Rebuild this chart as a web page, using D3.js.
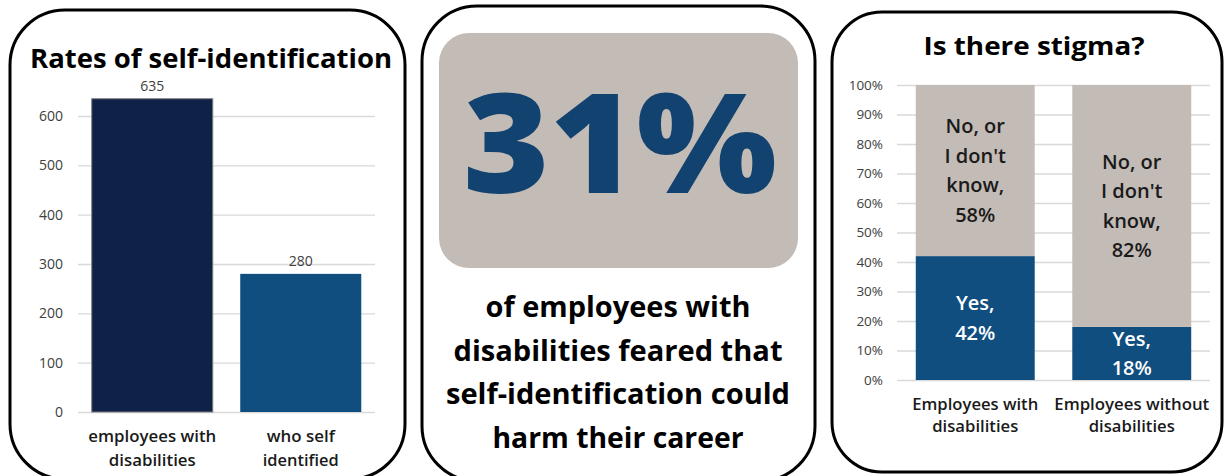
<!DOCTYPE html>
<html>
<head>
<meta charset="utf-8">
<script src="https://cdn.jsdelivr.net/npm/d3@7"></script>
<style>
  html, body { margin: 0; padding: 0; background: #ffffff; }
  svg { display: block; }
</style>
</head>
<body>
<svg id="chart" width="1226" height="476"></svg>
<script>
// ---- Data ----
const idCategories = [["employees with", "disabilities"], ["who self", "identified"]];
const idValues = [635, 280];
const idTicks = [0, 100, 200, 300, 400, 500, 600];

const headlineValue = "31%";
const headlineText = ["of employees with", "disabilities feared that", "self-identification could", "harm their career"];

const stigmaCategories = [["Employees with", "disabilities"], ["Employees without", "disabilities"]];
const stigmaYes = [42, 18];
const stigmaNo = [58, 82];
const stigmaTicks = [0, 10, 20, 30, 40, 50, 60, 70, 80, 90, 100];

// ---- Styles ----
const TITLE_FONT = "'Open Sans', Lato, sans-serif";
const AXIS_FONT = "'Open Sans', 'Noto Sans', sans-serif";
const NAVY = "#0f2147";
const BLUE = "#114e80";
const TAUPE = "#c3bbb6";
const BIG = "#12426f";
const GRID = "#d9d9d9";

const svg = d3.select("#chart");

function panel(x0, y0, x1, y1, r) {
  svg.append("rect")
    .attr("x", x0).attr("y", y0)
    .attr("width", x1 - x0).attr("height", y1 - y0)
    .attr("rx", r).attr("ry", r)
    .attr("fill", "#fff").attr("stroke", "#000").attr("stroke-width", 3);
}

// Centered label; optional width widens the rounded display face a little.
function label(g, t, x, y, size, weight, color, width) {
  const el = g.append("text").attr("x", x).attr("y", y).attr("text-anchor", "middle")
    .attr("font-family", TITLE_FONT).attr("font-weight", weight).attr("font-size", size)
    .attr("fill", color).text(t);
  if (width) el.attr("textLength", width).attr("lengthAdjust", "spacingAndGlyphs");
  return el;
}

// ---- Panel frames ----
panel(10, 10, 405, 479, 55);
panel(422, 6, 815, 481, 55);
panel(832, 12, 1222, 472, 50);

// ---- Panel 1: Rates of self-identification ----
{
  const g = svg.append("g");
  const x = d3.scaleBand().domain(d3.range(idValues.length)).range([78, 375])
    .paddingInner(0.185).paddingOuter(0.0925);
  const y = d3.scaleLinear().domain([0, 600]).range([412, 116]);

  label(g, "Rates of self-identification", 211, 68, 27, 700, "#000", 362);

  const axis = d3.axisLeft(y).tickValues(idTicks).tickSize(-(375 - 78)).tickPadding(15);
  const ax = g.append("g").attr("transform", "translate(78,0)").call(axis);
  ax.select(".domain").remove();
  ax.selectAll(".tick line").attr("stroke", GRID).attr("stroke-width", 1.3);
  ax.selectAll(".tick text").attr("font-family", AXIS_FONT).attr("font-size", 14).attr("fill", "#404040");

  g.selectAll("rect.bar").data(idValues).join("rect").attr("class", "bar")
    .attr("x", (d, i) => x(i)).attr("width", x.bandwidth())
    .attr("y", d => y(d)).attr("height", d => y(0) - y(d))
    .attr("fill", (d, i) => i === 0 ? NAVY : BLUE)
    .attr("stroke", (d, i) => i === 0 ? "#7f7f7f" : "none").attr("stroke-width", 1);

  g.selectAll("text.val").data(idValues).join("text").attr("class", "val")
    .attr("x", (d, i) => x(i) + x.bandwidth() / 2).attr("y", d => y(d) - 8)
    .attr("text-anchor", "middle").attr("font-family", AXIS_FONT).attr("font-size", 14)
    .attr("fill", "#404040").text(d => d);

  const catWidths = [[128, 87], [68, 76]];
  idCategories.forEach((lines, i) => {
    lines.forEach((t, j) => {
      label(g, t, x(i) + x.bandwidth() / 2, 442 + j * 23.5, 16.5, 600, "#1a1a1a", catWidths[i][j]);
    });
  });
}

// ---- Panel 2: headline figure ----
{
  const g = svg.append("g");
  g.append("rect").attr("x", 439).attr("y", 33).attr("width", 359).attr("height", 235)
    .attr("rx", 30).attr("ry", 30).attr("fill", TAUPE);
  label(g, headlineValue, 620, 193, 138, 800, BIG, 314);
  const lineWidths = [265, 329, 344, 251];
  headlineText.forEach((t, j) => {
    label(g, t, 618, 317 + j * 43.5, 28, 700, "#000", lineWidths[j]);
  });
}

// ---- Panel 3: Is there stigma? ----
{
  const g = svg.append("g");
  const x = d3.scaleBand().domain(d3.range(stigmaYes.length)).range([897, 1210])
    .paddingInner(0.24).paddingOuter(0.12);
  const y = d3.scaleLinear().domain([0, 100]).range([380, 85]);

  label(g, "Is there stigma?", 1034, 55, 25, 700, "#000", 221);

  const axis = d3.axisLeft(y).tickValues(stigmaTicks).tickSize(-(1210 - 897)).tickPadding(14)
    .tickFormat(d => d + "%");
  const ax = g.append("g").attr("transform", "translate(897,0)").call(axis);
  ax.select(".domain").remove();
  ax.selectAll(".tick line").attr("stroke", GRID).attr("stroke-width", 1.3);
  ax.selectAll(".tick text").attr("font-family", AXIS_FONT).attr("font-size", 13.5).attr("fill", "#404040");

  const stack = stigmaYes.map((v, i) => ({ i, yes: v, no: stigmaNo[i] }));

  g.selectAll("rect.yes").data(stack).join("rect").attr("class", "yes")
    .attr("x", d => x(d.i)).attr("width", x.bandwidth())
    .attr("y", d => y(d.yes)).attr("height", d => y(0) - y(d.yes)).attr("fill", BLUE);
  g.selectAll("rect.no").data(stack).join("rect").attr("class", "no")
    .attr("x", d => x(d.i)).attr("width", x.bandwidth())
    .attr("y", d => y(d.yes + d.no)).attr("height", d => y(d.yes) - y(d.yes + d.no)).attr("fill", TAUPE);

  const lh = 29.5;
  function block(cx, cy, lines, color) {
    const n = lines.length;
    lines.forEach((t, j) => {
      label(g, t, cx, cy + (j - (n - 1) / 2) * lh, 20, 600, color).attr("dy", "0.35em");
    });
  }
  stack.forEach(d => {
    const cx = x(d.i) + x.bandwidth() / 2;
    block(cx, (y(d.yes) + y(d.yes + d.no)) / 2, ["No, or", "I don't", "know,", d.no + "%"], "#1a1a1a");
    block(cx, (y(0) + y(d.yes)) / 2, ["Yes,", d.yes + "%"], "#ffffff");
  });

  const catWidths = [[126, 86], [155, 86]];
  stigmaCategories.forEach((lines, i) => {
    lines.forEach((t, j) => {
      label(g, t, x(i) + x.bandwidth() / 2, 410 + j * 22, 15.5, 600, "#1a1a1a", catWidths[i][j]);
    });
  });
}
</script>
</body>
</html>
